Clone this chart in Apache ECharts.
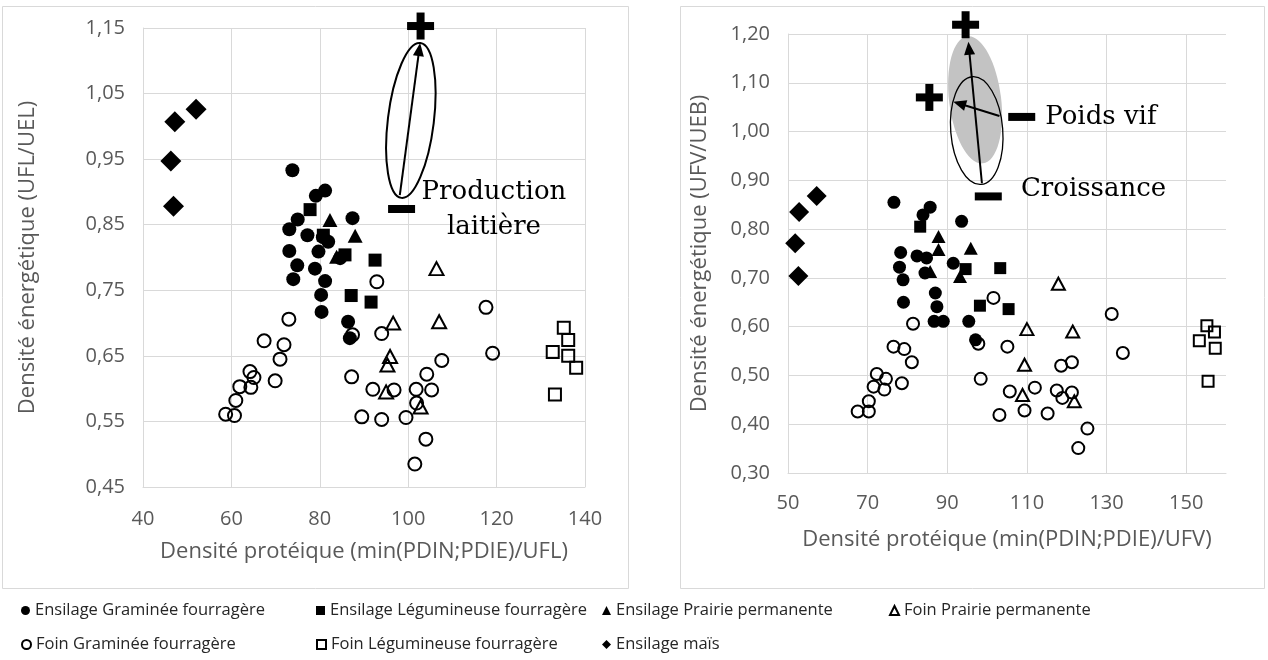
<!DOCTYPE html>
<html><head><meta charset="utf-8">
<script src="https://cdn.jsdelivr.net/npm/echarts@6/dist/echarts.min.js"></script>
<style>html,body{margin:0;padding:0;background:#fff}#c{width:1268px;height:660px}</style>
</head><body><div id="c"></div><script>
const categories = ['Ensilage Graminée fourragère','Ensilage Légumineuse fourragère','Ensilage Prairie permanente','Foin Prairie permanente','Foin Graminée fourragère','Foin Légumineuse fourragère','Ensilage maïs'];

// Left chart: x = min(PDIN;PDIE)/UFL, y = UFL/UEL
const ensGramL = [[73.8,0.933],[81.2,0.902],[79.1,0.894],[75.0,0.858],[73.1,0.843],[77.2,0.834],[81.9,0.824],[80.7,0.831],[73.1,0.810],[79.7,0.809],[74.9,0.788],[78.9,0.783],[74.0,0.767],[81.2,0.764],[80.3,0.743],[80.4,0.717],[87.4,0.860],[84.6,0.799],[86.4,0.702],[86.8,0.677]];
const ensLegL = [[77.8,0.873],[80.8,0.834],[85.7,0.804],[92.5,0.796],[87.1,0.742],[91.6,0.732]];
const ensPraL = [[82.3,0.857],[88.0,0.833],[83.8,0.801]];
const foinPraL = [[106.4,0.783],[107.0,0.702],[96.6,0.700],[95.9,0.649],[95.3,0.636],[95.0,0.595],[102.8,0.572]];
const foinGramL = [[73.0,0.706],[67.4,0.673],[71.9,0.667],[71.0,0.645],[64.2,0.626],[65.1,0.617],[69.9,0.612],[61.9,0.603],[64.4,0.602],[61.0,0.582],[58.7,0.561],[60.7,0.559],[94.0,0.684],[87.4,0.682],[107.6,0.643],[87.2,0.618],[104.2,0.622],[92.0,0.599],[96.8,0.598],[101.8,0.599],[105.3,0.598],[101.9,0.578],[89.5,0.557],[94.0,0.553],[99.5,0.556],[104.0,0.523],[101.5,0.485],[92.9,0.763],[117.6,0.724],[119.1,0.654]];
const foinLegL = [[135.2,0.693],[136.2,0.674],[132.7,0.656],[136.2,0.650],[138.0,0.632],[133.2,0.591]];
const maisL = [[52.0,1.026],[47.2,1.007],[46.3,0.947],[46.9,0.878]];

// Right chart: x = min(PDIN;PDIE)/UFV, y = UFV/UEB
const ensGramR = [[76.6,0.855],[85.7,0.845],[83.9,0.829],[78.3,0.752],[82.4,0.745],[84.8,0.741],[78.0,0.722],[78.9,0.696],[84.4,0.710],[79.0,0.650],[87.0,0.669],[87.4,0.641],[86.7,0.611],[89.0,0.611],[93.6,0.816],[91.5,0.730],[95.4,0.611],[97.1,0.573]];
const ensLegR = [[83.2,0.805],[94.6,0.718],[103.3,0.720],[98.2,0.643],[105.4,0.636]];
const ensPraR = [[87.8,0.785],[87.8,0.758],[95.9,0.761],[93.2,0.703],[85.7,0.713]];
const foinPraR = [[117.9,0.688],[110.0,0.595],[121.5,0.590],[109.4,0.522],[108.9,0.460],[121.9,0.447]];
const foinGramR = [[81.4,0.606],[76.5,0.559],[79.2,0.554],[81.1,0.527],[72.3,0.503],[74.6,0.493],[78.6,0.484],[71.5,0.477],[74.2,0.471],[70.3,0.447],[67.5,0.426],[70.3,0.426],[101.6,0.659],[97.8,0.565],[105.1,0.559],[131.3,0.626],[134.1,0.546],[98.4,0.493],[118.6,0.520],[121.3,0.527],[105.7,0.467],[112.0,0.475],[117.5,0.469],[118.9,0.454],[121.3,0.465],[103.1,0.419],[109.4,0.428],[115.2,0.422],[125.2,0.391],[122.9,0.351]];
const foinLegR = [[155.2,0.602],[157.1,0.589],[153.3,0.571],[157.3,0.556],[155.5,0.488]];
const maisR = [[57.2,0.868],[52.8,0.835],[51.8,0.771],[52.6,0.704]];

const xTicksL = [40,60,80,100,120,140];
const yTicksL = [0.45,0.55,0.65,0.75,0.85,0.95,1.05,1.15];
const xTicksR = [50,70,90,110,130,150];
const xMaxR = 160;
const yTicksR = [0.30,0.40,0.50,0.60,0.70,0.80,0.90,1.00,1.10,1.20];

const xTitleL = 'Densité protéique (min(PDIN;PDIE)/UFL)';
const yTitleL = 'Densité énergétique (UFL/UEL)';
const xTitleR = 'Densité protéique (min(PDIN;PDIE)/UFV)';
const yTitleR = 'Densité énergétique (UFV/UEB)';

const chart = echarts.init(document.getElementById('c'), null, {renderer:'canvas'});
const GRID = '#d9d9d9', LBL = '#595959', FONT = '"Open Sans", sans-serif';

const styles = [
  {symbol:'circle', size:[14,13], open:false},
  {symbol:'rect', size:[13,12], open:false},
  {symbol:'triangle', size:[[15,14],[14,13]], open:false},
  {symbol:'triangle', size:[[14,13],[13,12]], open:true},
  {symbol:'circle', size:[13,12], open:true},
  {symbol:'rect', size:[12,11], open:true},
  {symbol:'diamond', size:[[21,21],[20,20]], open:false}
];
const dataL = [ensGramL, ensLegL, ensPraL, foinPraL, foinGramL, foinLegL, maisL];
const dataR = [ensGramR, ensLegR, ensPraR, foinPraR, foinGramR, foinLegR, maisR];

const series = [];
[dataL, dataR].forEach((set, gi) => {
  set.forEach((d, i) => {
    const st = styles[i];
    series.push({
      type:'scatter', name:categories[i], data:d, xAxisIndex:gi, yAxisIndex:gi,
      symbol:st.symbol, symbolSize:st.size[gi],
      itemStyle: st.open ? {color:'rgba(255,255,255,0)', borderColor:'#000', borderWidth:2, opacity:1} : {color:'#000', opacity:1},
      emphasis:{disabled:true}, z: 2 + i
    });
  });
});

function axisX(gi, ticks, max, name, gap, showMax, margin){
  return {gridIndex:gi, type:'value', min:ticks[0], max:max, interval:ticks[1]-ticks[0],
    axisLine:{show:true, lineStyle:{color:GRID}}, axisTick:{show:false},
    splitLine:{show:true, showMaxLine:showMax, lineStyle:{color:GRID, width:1}},
    axisLabel:{color:LBL, fontSize:20, fontFamily:FONT, margin:margin, showMaxLabel:showMax, formatter:v=>String(Math.round(v))},
    name:name, nameLocation:'middle', nameGap:gap, nameTextStyle:{color:LBL, fontSize:22, fontFamily:FONT}};
}
function axisY(gi, ticks, name, gap){
  return {gridIndex:gi, type:'value', min:ticks[0], max:ticks[ticks.length-1], interval:0.1,
    axisLine:{show:true, lineStyle:{color:GRID}}, axisTick:{show:false},
    splitLine:{show:true, lineStyle:{color:GRID, width:1}},
    axisLabel:{color:LBL, fontSize:20, fontFamily:FONT, margin:18, formatter:v=>v.toFixed(2).replace('.',',')},
    name:name, nameLocation:'middle', nameGap:gap, nameTextStyle:{color:LBL, fontSize:22, fontFamily:FONT}};
}

const legendPos = [[16,597],[311,597],[597,597],[884,597],[16,631],[311,631],[597,631]];
const legends = categories.map((c,i)=>({data:[c], left:legendPos[i][0], top:legendPos[i][1], itemWidth:9, itemHeight:9, itemGap:5,
  selectedMode:false, textStyle:{color:'#262626', fontSize:16.5, fontFamily:FONT}}));

chart.setOption({
  animation:false,
  backgroundColor:'#fff',
  grid:[{left:143, right:1268-585, top:28, bottom:660-487},{left:788, right:1268-1226, top:34, bottom:660-473}],
  xAxis:[axisX(0, xTicksL, xTicksL[xTicksL.length-1], xTitleL, 54, true, 22), axisX(1, xTicksR, xMaxR, xTitleR, 56, false, 20)],
  yAxis:[axisY(0, yTicksL, yTitleL, 104), axisY(1, yTicksR, yTitleR, 77)],
  legend:legends,
  series:series
});

// ---- annotations (anchored in data coordinates) ----
function P(gi, x, y){ return chart.convertToPixel({gridIndex:gi}, [x,y]); }
function arrow(p0, p1, w, hl, hw){
  const dx=p1[0]-p0[0], dy=p1[1]-p0[1], L=Math.hypot(dx,dy), ux=dx/L, uy=dy/L;
  const bx=p1[0]-ux*hl, by=p1[1]-uy*hl;
  return [
    {type:'line', shape:{x1:p0[0],y1:p0[1],x2:bx+ux,y2:by+uy}, style:{stroke:'#000', lineWidth:w}, z:10},
    {type:'polygon', shape:{points:[[p1[0],p1[1]],[bx-uy*hw,by+ux*hw],[bx+uy*hw,by-ux*hw]]}, style:{fill:'#000'}, z:10}
  ];
}
function plus(c){ return [
  {type:'rect', shape:{x:c[0]-13.5,y:c[1]-4,width:27,height:8}, style:{fill:'#000'}, z:10},
  {type:'rect', shape:{x:c[0]-4,y:c[1]-13.5,width:8,height:27}, style:{fill:'#000'}, z:10}]; }
function minus(c){ return [{type:'rect', shape:{x:c[0]-13.5,y:c[1]-4,width:27,height:8}, style:{fill:'#000'}, z:10}]; }
function ell(c, rx, ry, rotDeg, style){ return {type:'ellipse', x:c[0], y:c[1], rotation:rotDeg*Math.PI/180, shape:{cx:0,cy:0,rx:rx,ry:ry}, style:style, z:9}; }
const serif = '26px "DejaVu Serif", serif';

const g = [];
// frames
g.push({type:'rect', shape:{x:2.5,y:6.5,width:626,height:582}, style:{fill:'none', stroke:GRID, lineWidth:1}, z:-10});
g.push({type:'rect', shape:{x:680.5,y:6.5,width:584,height:582}, style:{fill:'none', stroke:GRID, lineWidth:1}, z:-10});
// left: Production laitière
g.push(ell(P(0,100.6,1.009), 23, 78, -7, {fill:'none', stroke:'#000', lineWidth:2}));
g.push(...arrow(P(0,98.1,0.895), P(0,102.7,1.127), 2, 13, 5.5));
g.push(...plus(P(0,102.8,1.153)));
g.push(...minus(P(0,98.5,0.874)));
{ const t = P(0,119.4,0.873);
  g.push({type:'text', x:t[0], y:t[1], style:{text:'Production\nlaitière', font:serif, fill:'#000', align:'center', verticalAlign:'middle', lineHeight:35}, z:10}); }
// right: Croissance / Poids vif
g.push(ell(P(1,97.0,1.065), 26, 64, 7, {fill:'#c3c3c3', stroke:'none'}));
g.push(ell(P(1,97.4,1.002), 26, 54, 4.6, {fill:'none', stroke:'#000', lineWidth:1.3}));
g.push(...arrow(P(1,98.7,0.894), P(1,95.3,1.184), 2, 13, 5.5));
g.push(...arrow(P(1,103.1,1.032), P(1,91.5,1.061), 2, 13, 5.5));
g.push(...plus(P(1,94.6,1.219)));
g.push(...plus(P(1,85.5,1.070)));
g.push(...minus(P(1,108.7,1.030)));
g.push(...minus(P(1,100.3,0.867)));
{ const t = P(1,114.6,1.030);
  g.push({type:'text', x:t[0], y:t[1], style:{text:'Poids vif', font:serif, fill:'#000', align:'left', verticalAlign:'middle'}, z:10}); }
{ const t = P(1,108.5,0.881);
  g.push({type:'text', x:t[0], y:t[1], style:{text:'Croissance', font:serif, fill:'#000', align:'left', verticalAlign:'middle'}, z:10}); }

chart.setOption({graphic:{elements:g}});
</script></body></html>
